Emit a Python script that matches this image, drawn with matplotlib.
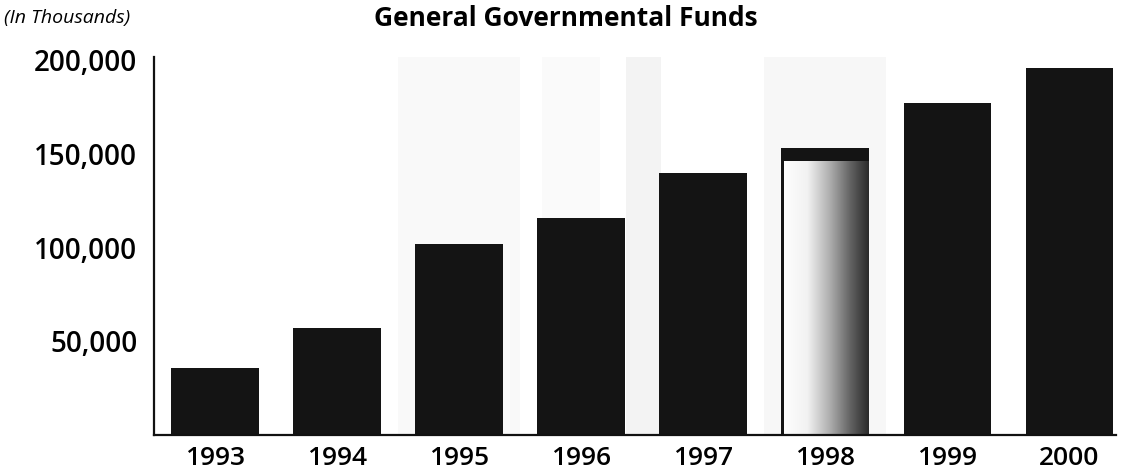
import matplotlib.pyplot as plt
import numpy as np
from matplotlib.colors import LinearSegmentedColormap

# General Governmental Funds, in thousands
years = ["1993", "1994", "1995", "1996", "1997", "1998", "1999", "2000"]
funds = [35700, 57100, 101900, 116000, 140000, 153000, 177000, 196000]
ytick_vals = [50000, 100000, 150000, 200000]
ytick_labels = ["50,000", "100,000", "150,000", "200,000"]
highlight = "1998"

plt.rcParams['font.family'] = ['Open Sans', 'DejaVu Sans']

fig = plt.figure(figsize=(11.23, 4.74), dpi=100)
ax = fig.add_axes([0.1371, 0.0823, 0.8566, 0.7974])

x = np.arange(len(years))
ax.set_xlim(-0.5, 7.38)
ax.set_ylim(0, 201600)

# faint scanned background bands
for lo, hi, c in [(1.5, 2.5, '#f9f9f9'), (2.68, 3.15, '#fafafa'), (3.37, 3.65, '#f3f3f3'),
                  (4.5, 5.5, '#f7f7f7')]:
    ax.axvspan(lo, hi, color=c, zorder=0, lw=0)

width = 0.72
colors = ['#141414' if y != highlight else 'none' for y in years]
bars = ax.bar(x, funds, width=width, color=colors, zorder=2, linewidth=0)

# 1998 bar: white-to-dark gradient with a black cap and left edge
i = years.index(highlight)
b = bars[i]
x0, x1 = b.get_x(), b.get_x() + b.get_width()
cap = 7000
grad = np.linspace(0, 1, 256).reshape(1, -1)
cmap = LinearSegmentedColormap.from_list(
    'g', [(0, '#ffffff'), (0.3, '#f2f2f2'), (0.55, '#b0b0b0'), (0.8, '#606060'), (1, '#2a2a2a')])
ax.imshow(grad, cmap=cmap, aspect='auto', extent=[x0, x1, 0, funds[i] - cap], zorder=2)
ax.bar(x[i], cap, bottom=funds[i] - cap, width=width, color='#141414', zorder=3, linewidth=0)
ax.bar(x0, funds[i], width=0.025, align='edge', color='#141414', zorder=3, linewidth=0)

ax.set_yticks(ytick_vals)
ax.set_yticklabels(ytick_labels, fontsize=20, fontweight='semibold')
ax.set_xticks(x)
ax.set_xticklabels(years, fontsize=19, fontweight='semibold')
ax.tick_params(axis='y', length=0, pad=12)
ax.tick_params(axis='x', length=0, pad=8)

for s in ['top', 'right']:
    ax.spines[s].set_visible(False)
for s in ['left', 'bottom']:
    ax.spines[s].set_linewidth(1.6)
    ax.spines[s].set_color('#111111')
    ax.spines[s].set_zorder(4)

fig.text(0.504, 0.962, "General Governmental Funds", ha='center', va='center',
         fontsize=19, fontweight='bold')
fig.text(0.004, 0.962, "(In Thousands)", ha='left', va='center',
         fontsize=14, fontstyle='italic')

fig.savefig("out.png", dpi=100)
